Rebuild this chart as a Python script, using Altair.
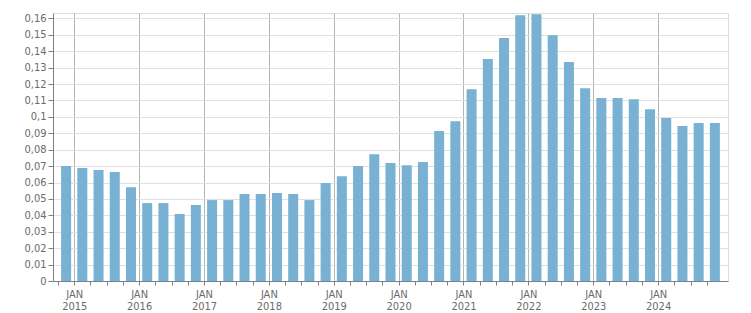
import altair as alt
import pandas as pd

# Quarter mid-points (Q4 2014 .. Q4 2024), expressed in fractional years
quarters = [2014.875 + 0.25 * i for i in range(41)]
values = [0.0700, 0.0688, 0.0676, 0.0664, 0.0572, 0.0475, 0.0475, 0.0408, 0.0463, 0.0493,
          0.0493, 0.0530, 0.0530, 0.0536, 0.0530, 0.0493, 0.0597, 0.0639, 0.0700, 0.0773,
          0.0719, 0.0706, 0.0725, 0.0914, 0.0974, 0.1169, 0.1352, 0.1480, 0.1620, 0.1626,
          0.1498, 0.1334, 0.1175, 0.1115, 0.1115, 0.1108, 0.1047, 0.0993, 0.0944, 0.0962,
          0.0962]
x_ticks = [2014.75 + 0.25 * i for i in range(41)]
y_ticks = [round(0.01 * i, 2) for i in range(17)]

df = pd.DataFrame({"t": quarters, "v": values})

FONT = "DejaVu Sans Condensed, DejaVu Sans"

chart = alt.Chart(df).mark_bar(size=10, color="#78b1d3").encode(
    x=alt.X("t:Q",
            scale=alt.Scale(domain=[2014.75, 2025.0], nice=False, zero=False),
            axis=alt.Axis(
                values=x_ticks,
                title=None,
                labelExpr="datum.value % 1 === 0 ? ['JAN', toString(datum.value)] : ''",
                labelFont=FONT, labelFontSize=11, labelColor="#6b6b6b",
                labelLineHeight=12, labelPadding=3, labelBaseline="top",
                labelFlush=False, labelOverlap=False,
                tickSize=4, tickColor="#808080",
                domainColor="#808080",
                grid=True,
                gridColor="#b4b4b4",
                gridOpacity={"condition": {"test": "datum.value % 1 === 0", "value": 1}, "value": 0},
            )),
    y=alt.Y("v:Q",
            scale=alt.Scale(domain=[0, 0.1633], nice=False),
            axis=alt.Axis(
                values=y_ticks,
                title=None,
                labelExpr="replace(format(datum.value, '.2~f'), '.', ',')",
                labelFont=FONT, labelFontSize=11, labelColor="#6b6b6b",
                labelPadding=2, tickSize=5, tickColor="#808080",
                domainColor="#808080",
                grid=True, gridColor="#e0e0e0",
            )),
).properties(
    width=675, height=268,
    padding={"left": 53, "top": 13, "right": 23, "bottom": 32},
    autosize="none",
).configure_view(stroke="#dddddd")

chart.save("out.html", embed_options={"renderer": "svg", "actions": False})
